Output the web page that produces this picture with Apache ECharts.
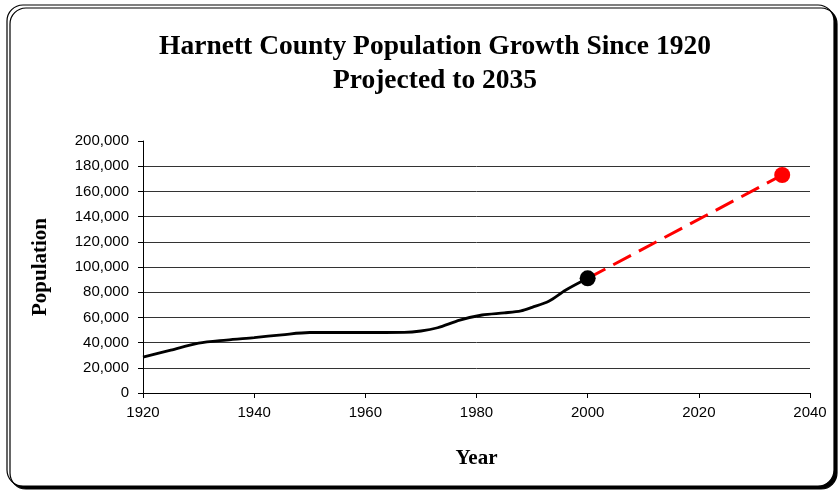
<!DOCTYPE html>
<html><head><meta charset="utf-8">
<script src="https://cdn.jsdelivr.net/npm/echarts@6/dist/echarts.min.js"></script>
<style>html,body{margin:0;padding:0;background:#fff}#c{width:838px;height:492px}</style>
</head><body><div id="c"></div>
<script>
var years = [1920,1925,1930,1935,1940,1945,1950,1955,1960,1967,1970,1973,1977,1981,1985,1988,1990,1993,1996,2000];
var population = [28500,34000,39500,42000,44000,46200,48000,48000,48000,48100,49200,51800,57800,61900,63600,65200,68000,72800,81500,91000];
var projYears = [2000,2035];
var projPop = [91000,173000];
var xTicks = [1920,1940,1960,1980,2000,2020,2040];
var yTicks = [0,20000,40000,60000,80000,100000,120000,140000,160000,180000,200000];

var hist = years.map(function(y,i){return [y,population[i]];});
var proj = projYears.map(function(y,i){return [y,projPop[i]];});

var chart = echarts.init(document.getElementById('c'));
chart.setOption({
  animation:false,
  backgroundColor:'#fff',
  graphic:[{
    type:'rect', z:-10, silent:true,
    shape:{x:7,y:5,width:827,height:481,r:16},
    style:{fill:'#fff',stroke:'#000',lineWidth:1.2,shadowColor:'#000',shadowOffsetX:3,shadowOffsetY:3,shadowBlur:0}
  }],
  title:{
    text:'Harnett County Population Growth Since 1920\nProjected to 2035',
    left:430, top:25, textAlign:'center',
    textStyle:{fontFamily:'Liberation Serif',fontWeight:'bold',fontSize:27.5,color:'#000',lineHeight:34}
  },
  grid:{left:143,right:28,top:141,bottom:99,containLabel:false},
  xAxis:{
    type:'value',min:xTicks[0],max:xTicks[xTicks.length-1],interval:20,
    name:'Year',nameLocation:'middle',nameGap:55,
    nameTextStyle:{fontFamily:'Liberation Serif',fontWeight:'bold',fontSize:21,color:'#000'},
    axisLine:{show:true,lineStyle:{color:'#000',width:1}},
    axisTick:{show:true,length:5,lineStyle:{color:'#000'}},
    axisLabel:{fontFamily:'Liberation Sans',fontSize:15,color:'#000',margin:12,
      formatter:function(v){return String(v);}},
    splitLine:{show:false}
  },
  yAxis:{
    type:'value',min:yTicks[0],max:yTicks[yTicks.length-1],interval:20000,
    name:'Population',nameLocation:'middle',nameGap:92,nameRotate:90,
    nameTextStyle:{fontFamily:'Liberation Serif',fontWeight:'bold',fontSize:21,color:'#000'},
    axisLine:{show:true,lineStyle:{color:'#000',width:1}},
    axisTick:{show:true,length:5,lineStyle:{color:'#000'}},
    axisLabel:{fontFamily:'Liberation Sans',fontSize:15,color:'#000',margin:14,
      formatter:function(v){return v.toLocaleString('en-US');}},
    splitLine:{show:true,showMaxLine:false,lineStyle:{color:'#333',width:1}}
  },
  series:[
    {type:'line',data:hist,smooth:0.3,showSymbol:false,symbol:'none',
     lineStyle:{color:'#000',width:2.8},z:3},
    {type:'line',data:proj,showSymbol:true,symbol:'circle',symbolSize:16,
     lineStyle:{color:'#ff0000',width:3,type:[20,9]},
     itemStyle:{color:function(p){return p.dataIndex===0?'#000':'#ff0000';}},z:4}
  ]
});
</script></body></html>
